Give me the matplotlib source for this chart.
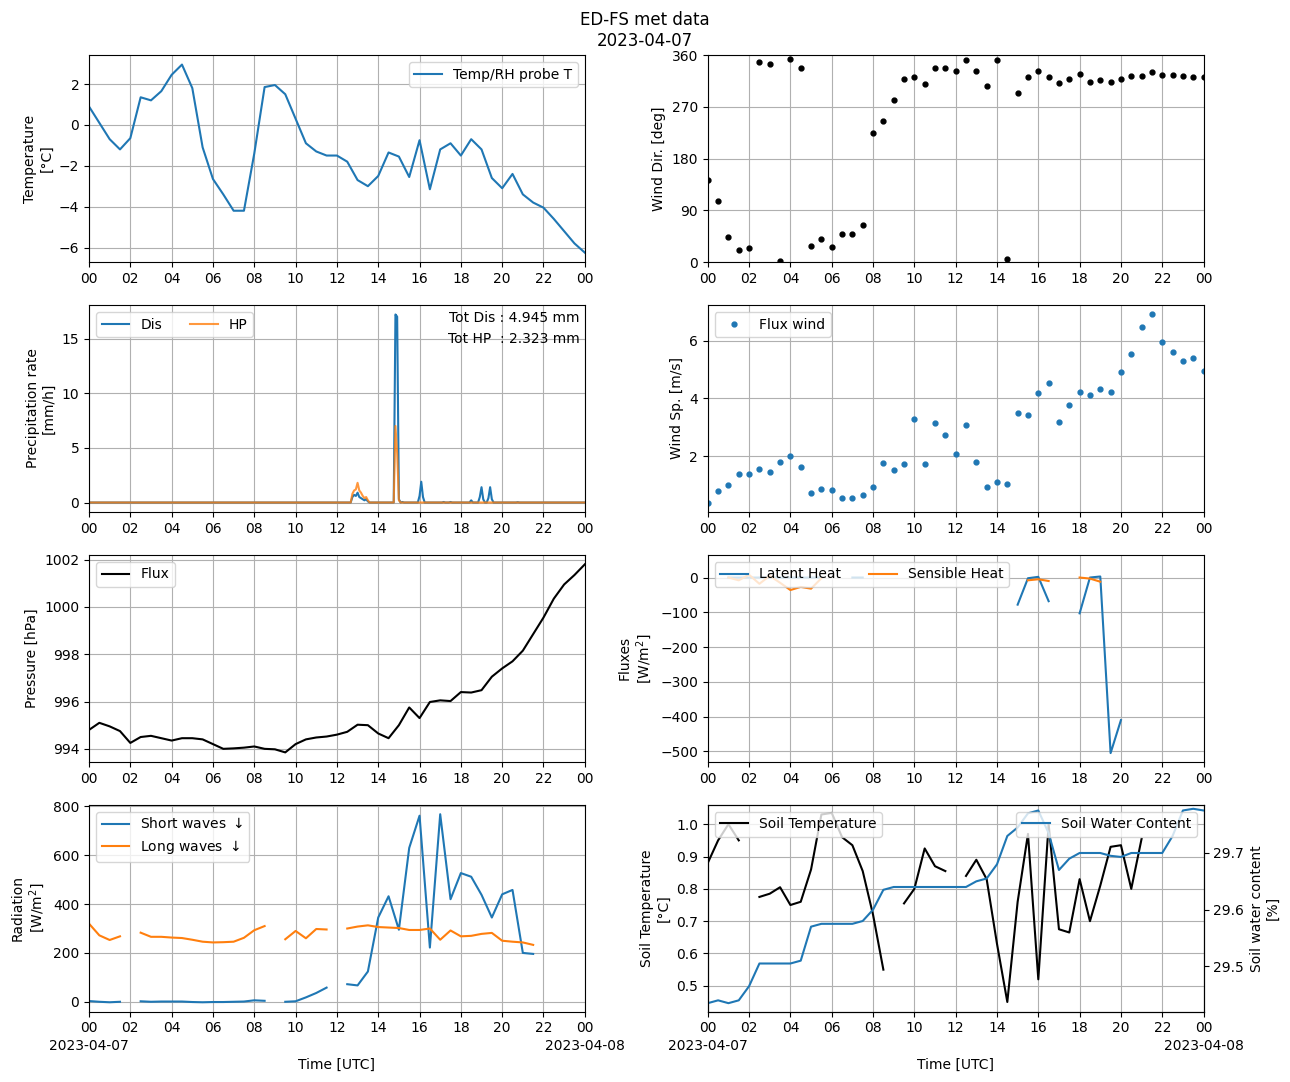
import numpy as np
import pandas as pd
import matplotlib
matplotlib.use("Agg")
import matplotlib.pyplot as plt

nan = np.nan
t30 = pd.date_range("2023-04-07 00:00", "2023-04-08 00:00", freq="30min")

temp = [0.9, 0.1, -0.7, -1.2, -0.65, 1.35, 1.2, 1.65, 2.45, 2.95, 1.8, -1.1, -2.65, -3.4, -4.2, -4.2,
        -1.4, 1.85, 1.95, 1.5, 0.3, -0.9, -1.3, -1.5, -1.5, -1.8, -2.7, -3.0, -2.5, -1.35, -1.55, -2.55,
        -0.75, -3.15, -1.2, -0.9, -1.5, -0.7, -1.2, -2.6, -3.1, -2.4, -3.4, -3.8, -4.05, -4.6, -5.2, -5.8, -6.25]

wdir = [143, 107, 43, 21, 24, 349, 345, 2, 353, 337, 28, 40, 26, 49, 49, 64, 224, 245, 282, 318, 322, 310,
        337, 338, 333, 351, 333, 306, 352, 6, 295, 322, 332, 322, 311, 318, 327, 313, 317, 314, 319, 324,
        324, 330, 326, 325, 324, 322, 322]

wspd = [0.4, 0.8, 1.0, 1.4, 1.37, 1.55, 1.45, 1.8, 2.0, 1.62, 0.73, 0.88, 0.83, 0.57, 0.57, 0.65, 0.94,
        1.76, 1.52, 1.73, 3.27, 1.73, 3.14, 2.72, 2.07, 3.07, 1.79, 0.94, 1.1, 1.04, 3.48, 3.42, 4.17, 4.52,
        3.17, 3.76, 4.21, 4.11, 4.31, 4.21, 4.9, 5.52, 6.48, 6.9, 5.94, 5.6, 5.3, 5.4, 4.94]

pres = [994.8, 995.1, 994.95, 994.75, 994.25, 994.5, 994.55, 994.45, 994.35, 994.45, 994.45, 994.4, 994.2,
        994.0, 994.02, 994.05, 994.1, 994.0, 993.98, 993.85, 994.2, 994.4, 994.48, 994.52, 994.6, 994.72,
        995.02, 995.0, 994.65, 994.45, 995.0, 995.75, 995.3, 995.98, 996.05, 996.02, 996.4, 996.38, 996.48,
        997.05, 997.4, 997.7, 998.15, 998.85, 999.55, 1000.35, 1000.95, 1001.35, 1001.8]

latent = [nan, nan, 0, 0, 0, 0, 0, 0, 0, 0, 0, 0, nan, nan, 0, 0, nan, nan, nan, nan, nan, nan, nan, nan,
          nan, nan, nan, nan, nan, nan, -78, -2, 2, -68, nan, nan, -103, 0, 3, -505, -410, nan, nan, nan,
          nan, nan, nan, nan, nan]
sensible = [nan, nan, 0, -8, 8, -18, 5, -15, -36, -27, -32, -2, nan, nan, nan, nan, nan, nan, nan, nan, nan,
            nan, nan, nan, nan, nan, nan, nan, nan, nan, nan, -8, -5, -10, nan, nan, 0, -3, -12, nan, nan,
            nan, nan, nan, nan, nan, nan, nan, nan]

sw = [3, 0, -2, 0, nan, 2, 0, 1, 1, 1, -1, -2, -1, -1, 0, 1, 6, 4, nan, 0, 2, 18, 36, 58, nan, 72, 67, 124,
      345, 432, 295, 630, 762, 222, 768, 420, 527, 512, 438, 345, 440, 458, 200, 196, nan, nan, nan, nan, nan]
lw = [320, 272, 253, 268, nan, 283, 266, 266, 263, 261, 254, 246, 243, 244, 246, 262, 293, 310, nan, 256,
      290, 260, 298, 296, nan, 300, 308, 313, 306, 304, 302, 294, 294, 300, 254, 292, 268, 270, 278, 282,
      250, 246, 243, 233, nan, nan, nan, nan, nan]

soil_t = [0.88, 0.95, 1.0, 0.95, nan, 0.775, 0.785, 0.805, 0.75, 0.76, 0.86, 1.03, 1.035, 0.96, 0.935, 0.855,
          0.72, 0.55, nan, 0.755, 0.80, 0.925, 0.87, 0.855, nan, 0.84, 0.89, 0.83, 0.63, 0.45, 0.76, 0.97,
          0.52, 1.0, 0.675, 0.665, 0.83, 0.70, 0.81, 0.93, 0.935, 0.80, 0.955, nan, nan, nan, nan, nan, nan]
soil_w = [29.435, 29.44, 29.435, 29.44, 29.465, 29.505, 29.505, 29.505, 29.505, 29.51, 29.57, 29.575, 29.575,
          29.575, 29.575, 29.58, 29.60, 29.635, 29.64, 29.64, 29.64, 29.64, 29.64, 29.64, 29.64, 29.64, 29.65,
          29.655, 29.68, 29.73, 29.745, 29.77, 29.775, 29.735, 29.67, 29.69, 29.70, 29.70, 29.70, 29.695,
          29.693, 29.70, 29.70, 29.70, 29.70, 29.73, 29.775, 29.778, 29.775]

# precipitation, 5-min resolution; only non-zero values listed (hour -> mm/h)
t5 = pd.date_range("2023-04-07 00:00", "2023-04-08 00:00", freq="5min")
dis_events = {12.75: 0.5, 12.833: 0.7, 12.917: 0.6, 13.0: 0.9, 13.083: 0.5, 13.167: 0.4, 13.25: 0.3,
              13.333: 0.2, 13.417: 0.3, 13.5: 0.1, 14.833: 17.2, 14.917: 17.0, 15.0: 0.3, 15.167: 0.05,
              16.0: 0.6, 16.083: 1.9, 16.167: 0.5, 17.167: 0.05, 17.5: 0.05, 18.5: 0.2,
              18.917: 0.5, 19.0: 1.4, 19.083: 0.3, 19.333: 0.4, 19.417: 1.4, 19.5: 0.3, 20.75: 0.03}
hp_events = {12.75: 0.8, 12.833: 1.1, 12.917: 1.2, 13.0: 1.8, 13.083: 1.1, 13.167: 0.9, 13.25: 0.6,
             13.333: 0.4, 13.417: 0.5, 13.5: 0.2, 14.833: 7.0, 14.917: 4.5, 15.0: 0.2}
tot_dis = 4.945
tot_hp = 2.323


def hourly(events):
    arr = np.zeros(len(t5))
    for h, v in events.items():
        arr[int(round(h * 12))] = v
    return arr


dis = hourly(dis_events)
hp = hourly(hp_events)

fig, axs = plt.subplots(4, 2, figsize=(12.9, 10.82), dpi=100)
fig.subplots_adjust(left=0.069, right=0.933, top=0.949, bottom=0.065, wspace=0.248, hspace=0.208)
fig.suptitle("ED-FS met data\n2023-04-07", y=0.99)

ax = axs[0, 0]
ax.plot(t30, temp, label="Temp/RH probe T")
ax.set_ylabel("Temperature\n[°C]")
ax.legend(loc="upper right")

ax = axs[0, 1]
ax.plot(t30, wdir, ".", color="k", markersize=7)
ax.set_ylim(0, 360)
ax.set_yticks([0, 90, 180, 270, 360])
ax.set_ylabel("Wind Dir. [deg]")

ax = axs[1, 0]
ax.plot(t5, dis, label="Dis")
ax.plot(t5, hp, label="HP", alpha=0.8)
ax.set_ylabel("Precipitation rate\n[mm/h]")
ax.legend(loc="upper left", ncol=2)
ax.text(0.99, 0.97, f"Tot Dis : {tot_dis:.3f} mm\nTot HP  : {tot_hp:.3f} mm", transform=ax.transAxes,
        ha="right", va="top", linespacing=1.6)

ax = axs[1, 1]
ax.plot(t30, wspd, ".", color="C0", markersize=7, label="Flux wind")
ax.set_ylabel("Wind Sp. [m/s]")
ax.legend(loc="upper left")

ax = axs[2, 0]
ax.plot(t30, pres, color="k", label="Flux")
ax.set_ylabel("Pressure [hPa]")
ax.legend(loc="upper left")

ax = axs[2, 1]
ax.plot(t30, latent, label="Latent Heat")
ax.plot(t30, sensible, label="Sensible Heat")
ax.set_ylim(-530, 65)
ax.set_ylabel("Fluxes\n[W/m$^2$]")
ax.legend(loc="upper left", ncol=2)

ax = axs[3, 0]
ax.plot(t30, sw, label="Short waves $\\downarrow$")
ax.plot(t30, lw, label="Long waves $\\downarrow$")
ax.set_ylabel("Radiation\n[W/m$^2$]")
ax.legend(loc="upper left")

ax = axs[3, 1]
ax.plot(t30, soil_t, color="k", label="Soil Temperature")
ax.set_ylabel("Soil Temperature\n[°C]")
ax.set_ylim(0.42, 1.06)
ax.legend(loc="upper left")
ax2 = ax.twinx()
ax2.plot(t30, soil_w, color="C0", label="Soil Water Content")
ax2.set_ylim(29.42, 29.785)
ax2.set_yticks([29.5, 29.6, 29.7])
ax2.set_ylabel("Soil water content\n[%]")
ax2.legend(loc="upper right")

ticks = pd.date_range(t30[0], t30[-1], freq="2h")
labels = [t.strftime("%H") for t in ticks]
for i, ax in enumerate(axs.flat):
    ax.set_xlim(t30[0], t30[-1])
    ax.set_xticks(ticks, labels)
    ax.grid(True)
    if i >= 6:
        ax.set_xlabel("Time [UTC]", labelpad=16)
        for t in (ticks[0], ticks[-1]):
            ax.annotate(t.strftime("%Y-%m-%d"), xy=(t, 0), xycoords=("data", "axes fraction"),
                        xytext=(0, -20), textcoords="offset points", ha="center", va="top")

plt.savefig("out.png")
